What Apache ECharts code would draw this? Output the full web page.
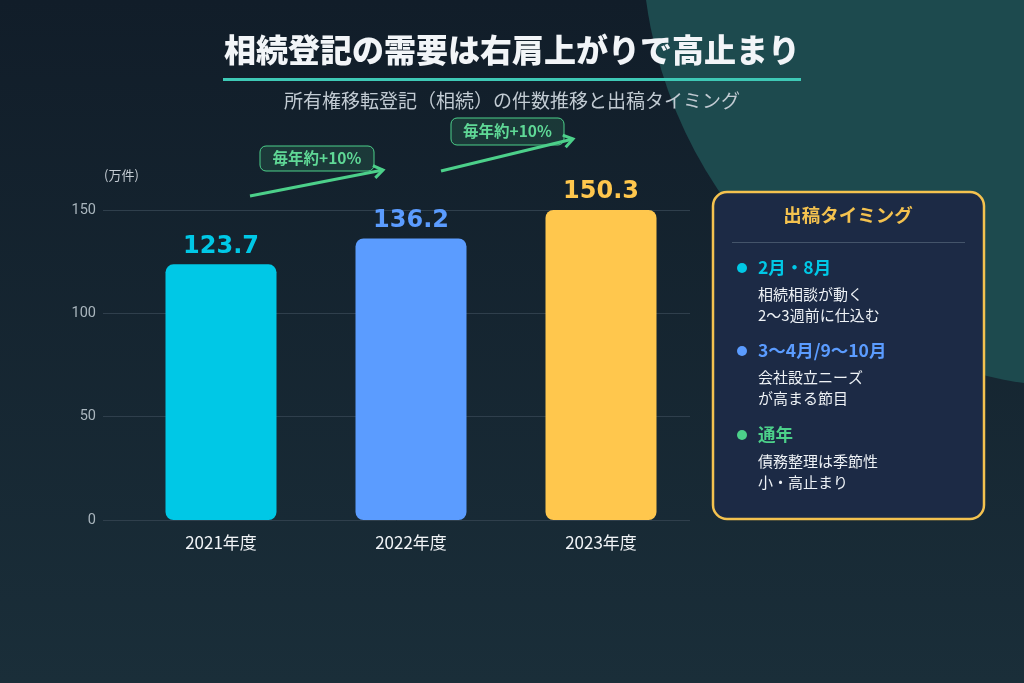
<!DOCTYPE html>
<html lang="ja">
<head>
<meta charset="UTF-8">
<title>相続登記の需要</title>
<script src="https://cdn.jsdelivr.net/npm/echarts@6/dist/echarts.min.js"></script>
<style>
  html, body { margin: 0; padding: 0; background: #131f2b; }
  #main { width: 1024px; height: 683px; }
</style>
</head>
<body>
<div id="main"></div>
<script>
// data
var years = ['2021年度', '2022年度', '2023年度'];
var counts = [123.7, 136.2, 150.3];
var barColors = ['#00c8e6', '#5b9cff', '#ffc74d'];
var yTicks = [0, 50, 100, 150];
var growthNotes = ['毎年約+10%', '毎年約+10%'];

var panelTitle = '出稿タイミング';
var panelHeads = ['2月・8月', '3〜4月/9〜10月', '通年'];
var panelBodies = [
  ['相続相談が動く', '2〜3週前に仕込む'],
  ['会社設立ニーズ', 'が高まる節目'],
  ['債務整理は季節性', '小・高止まり']
];
var panelColors = ['#00c8e6', '#5b9cff', '#4cd08a'];

var JP = '"Noto Sans CJK JP", "Noto Sans", sans-serif';
var green = '#4cd08a';

function arrow(x1, y1, x2, y2) {
  var dx = x2 - x1, dy = y2 - y1;
  var len = Math.sqrt(dx * dx + dy * dy);
  var ux = dx / len, uy = dy / len;
  var a = 0.6, L = 11;
  var w1 = [x2 - L * (ux * Math.cos(a) - uy * Math.sin(a)), y2 - L * (uy * Math.cos(a) + ux * Math.sin(a))];
  var w2 = [x2 - L * (ux * Math.cos(a) + uy * Math.sin(a)), y2 - L * (uy * Math.cos(a) - ux * Math.sin(a))];
  return [
    { type: 'polyline', shape: { points: [[x1, y1], [x2, y2]] }, style: { stroke: green, lineWidth: 3 }, z: 5 },
    { type: 'polyline', shape: { points: [w1, [x2, y2], w2] }, style: { stroke: green, lineWidth: 3, fill: null }, z: 5 }
  ];
}

function tag(x, y, w, h, text) {
  return [
    { type: 'rect', shape: { x: x, y: y, width: w, height: h, r: 6 },
      style: { fill: 'rgba(76,208,138,0.14)', stroke: green, lineWidth: 1 }, z: 5 },
    { type: 'text', x: x + w / 2, y: y + h / 2,
      style: { text: text, fill: '#5fd896', font: 'bold 15.5px ' + JP, textAlign: 'center', textVerticalAlign: 'middle' }, z: 6 }
  ];
}

var graphics = [
  { type: 'circle', shape: { cx: 1090, cy: -60, r: 448 }, style: { fill: '#1d4a4e' }, z: -10, silent: true },
  { type: 'text', x: 512, y: 50,
    style: { text: '相続登記の需要は右肩上がりで高止まり', fill: '#f2f5f8', font: '900 32px ' + JP,
      textAlign: 'center', textVerticalAlign: 'middle' } },
  { type: 'rect', shape: { x: 223, y: 78, width: 578, height: 3 }, style: { fill: '#3ec9b6' } },
  { type: 'text', x: 512, y: 101,
    style: { text: '所有権移転登記（相続）の件数推移と出稿タイミング', fill: '#c2cbd3', font: '19px ' + JP,
      textAlign: 'center', textVerticalAlign: 'middle' } },
  { type: 'text', x: 104, y: 175,
    style: { text: '(万件)', fill: '#c4ccd3', font: '13px ' + JP, textAlign: 'left', textVerticalAlign: 'middle' } }
];
graphics = graphics.concat(arrow(250, 196, 383, 170), arrow(441, 171, 573, 139));
graphics = graphics.concat(tag(260, 146, 114, 25, growthNotes[0]), tag(451, 118, 113, 27, growthNotes[1]));

// right panel
graphics.push(
  { type: 'rect', shape: { x: 713, y: 192, width: 271, height: 327, r: 14 },
    style: { fill: '#1c2a45', stroke: '#f4c24f', lineWidth: 2.5 } },
  { type: 'text', x: 848, y: 215,
    style: { text: panelTitle, fill: '#f4c24f', font: 'bold 18.5px ' + JP, textAlign: 'center', textVerticalAlign: 'middle' } },
  { type: 'rect', shape: { x: 732, y: 242, width: 233, height: 1 }, style: { fill: '#44546a' } }
);
var headY = [267, 350, 434];
for (var i = 0; i < panelHeads.length; i++) {
  graphics.push(
    { type: 'circle', shape: { cx: 742, cy: headY[i] + 1, r: 5 }, style: { fill: panelColors[i] } },
    { type: 'text', x: 758, y: headY[i],
      style: { text: panelHeads[i], fill: panelColors[i], font: 'bold 17.5px ' + JP, textVerticalAlign: 'middle' } }
  );
  for (var j = 0; j < panelBodies[i].length; j++) {
    graphics.push({ type: 'text', x: 758, y: headY[i] + 27 + j * 21,
      style: { text: panelBodies[i][j], fill: '#eef2f6', font: '15px ' + JP, textVerticalAlign: 'middle' } });
  }
}

var option = {
  backgroundColor: {
    type: 'linear', x: 0, y: 0, x2: 0, y2: 1,
    colorStops: [{ offset: 0, color: '#111d29' }, { offset: 1, color: '#1a2e39' }]
  },
  animation: false,
  grid: [
    { left: 103, right: 334, top: 210, bottom: 163 },
    { left: 126, right: 328, top: 210, bottom: 163 }
  ],
  xAxis: [
    { type: 'category', gridIndex: 0, data: years, show: false },
    { type: 'category', gridIndex: 1, data: years,
      axisLine: { show: false }, axisTick: { show: false },
      axisLabel: { color: '#f2f5f8', fontSize: 17, fontFamily: JP, margin: 14 } }
  ],
  yAxis: [
    { type: 'value', gridIndex: 0, min: yTicks[0], max: yTicks[yTicks.length - 1], interval: 50,
      axisLine: { show: false }, axisTick: { show: false },
      axisLabel: { color: '#a9b5bd', fontSize: 14.5, fontFamily: 'Roboto, "Noto Sans", sans-serif', margin: 7 },
      splitLine: { lineStyle: { color: '#2f3f4c', width: 1 } } },
    { type: 'value', gridIndex: 1, min: yTicks[0], max: yTicks[yTicks.length - 1], interval: 50, show: false }
  ],
  series: [{
    type: 'bar',
    xAxisIndex: 1, yAxisIndex: 1,
    barWidth: 111,
    data: counts.map(function (v, i) {
      return {
        value: v,
        itemStyle: { color: barColors[i], borderRadius: 8 },
        label: { color: barColors[i] }
      };
    }),
    label: {
      show: true, position: 'top', distance: 6,
      fontFamily: '"DejaVu Sans", sans-serif', fontWeight: 'bold', fontSize: 24
    }
  }],
  graphic: graphics
};

var myChart = echarts.init(document.getElementById('main'));
myChart.setOption(option);
</script>
</body>
</html>
